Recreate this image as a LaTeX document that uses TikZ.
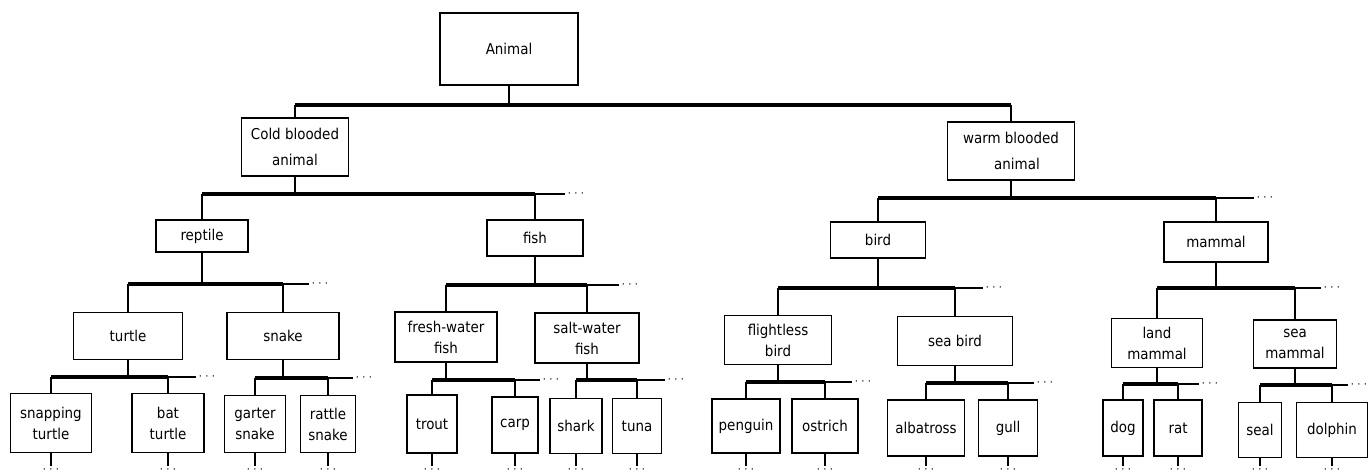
\documentclass[tikz,border=0pt]{standalone}
\usepackage{fontspec}
\setmainfont{DejaVu Sans Condensed}

\tikzstyle{box}=[shape=rectangle,draw,line width=0.9pt,inner sep=1pt,align=center,font=\fontsize{8.5}{12}\selectfont]
\tikzstyle{bus}=[line width=2pt]
\tikzstyle{stem}=[line width=1.1pt]
\tikzstyle{tail}=[line width=0.6pt]
\tikzstyle{more}=[anchor=west,inner sep=1pt,font=\scriptsize]
\tikzset{dims/.style 2 args={minimum width=#1*0.02cm,minimum height=#2*0.02cm}}

\begin{document}
\begin{tikzpicture}[x=0.02cm,y=-0.02cm]
        \useasboundingbox (0,0) rectangle (1372,472);
        % bus levels
        \coordinate (b0) at (0,105);
        \coordinate (b1c) at (0,194);
        \coordinate (b1w) at (0,198);
        \coordinate (b2r) at (0,284);
        \coordinate (b2f) at (0,285);
        \coordinate (b2b) at (0,288);
        \coordinate (b2m) at (0,288);
        \coordinate (b3t) at (0,377);
        \coordinate (b3s) at (0,378);
        \coordinate (b3fw) at (0,380);
        \coordinate (b3sw) at (0,380);
        \coordinate (b3fl) at (0,382);
        \coordinate (b3sb) at (0,383);
        \coordinate (b3lm) at (0,384);
        \coordinate (b3sm) at (0,385);
        \coordinate (bot) at (0,466);

        % classes
        \node[box,dims={138}{72}] (animal) at (509,49) {Animal};
        \node[box,dims={107}{58}] (cold) at (295,147) {Cold blooded\\[3pt]animal};
        \node[box,dims={127}{58}] (warm) at (1011,151) {warm blooded\\[3pt]\hspace*{0.8em}animal};
        \node[box,dims={92}{32}] (reptile) at (202,236) {reptile};
        \node[box,dims={96}{36}] (fish) at (535,238) {fish};
        \node[box,dims={95}{36}] (bird) at (878,240) {bird};
        \node[box,dims={104}{40}] (mammal) at (1216,242) {mammal};
        \node[box,dims={109}{47}] (turtle) at (128,336) {turtle};
        \node[box,dims={112}{47}] (snake) at (283,336) {snake};
        \node[box,dims={102}{50}] (freshw) at (446,337) {fresh-water\\fish};
        \node[box,dims={104}{50}] (saltw) at (587,338) {salt-water\\fish};
        \node[box,dims={107}{49}] (flightless) at (778,340) {flightless\\bird};
        \node[box,dims={115}{49}] (seabird) at (955,341) {sea bird};
        \node[box,dims={91}{49}] (landm) at (1157,343) {land\\mammal};
        \node[box,dims={83}{48}] (seam) at (1295,344) {sea\\mammal};

        % kinds
        \node[box,dims={81}{59}] (snapping) at (51,423) {snapping\\turtle};
        \node[box,dims={72}{59}] (bat) at (168,423) {bat\\turtle};
        \node[box,dims={61}{57}] (garter) at (255,424) {garter\\snake};
        \node[box,dims={55}{57}] (rattle) at (328,424) {rattle\\snake};
        \node[box,dims={50}{58}] (trout) at (432,424) {trout};
        \node[box,dims={46}{56}] (carp) at (515,425) {carp};
        \node[box,dims={52}{55}] (shark) at (576,426) {shark};
        \node[box,dims={49}{55}] (tuna) at (637,426) {tuna};
        \node[box,dims={68}{54}] (penguin) at (746,426) {penguin};
        \node[box,dims={66}{54}] (ostrich) at (825,426) {ostrich};
        \node[box,dims={77}{56}] (albatross) at (926,428) {albatross};
        \node[box,dims={59}{56}] (gull) at (1008,428) {gull};
        \node[box,dims={40}{56}] (dog) at (1123,428) {dog};
        \node[box,dims={48}{56}] (rat) at (1178,428) {rat};
        \node[box,dims={43}{55}] (seal) at (1260,430) {seal};
        \node[box,dims={71}{55}] (dolphin) at (1332,430) {dolphin};

        % links
        \draw[stem] (animal) -- (animal |- b0);
        \draw[bus] (cold |- b0) -- (warm |- b0);
        \draw[stem] (cold |- b0) -- (cold);
        \draw[stem] (warm |- b0) -- (warm);
        \foreach \p/\l/\r/\b/\t in {cold/reptile/fish/b1c/30, warm/bird/mammal/b1w/38,
            reptile/turtle/snake/b2r/26, fish/freshw/saltw/b2f/32,
            bird/flightless/seabird/b2b/28, mammal/landm/seam/b2m/26,
            turtle/snapping/bat/b3t/28, snake/garter/rattle/b3s/25,
            freshw/trout/carp/b3fw/25, saltw/shark/tuna/b3sw/28,
            flightless/penguin/ostrich/b3fl/27, seabird/albatross/gull/b3sb/26,
            landm/dog/rat/b3lm/21, seam/seal/dolphin/b3sm/16}{
            \draw[stem] (\p) -- (\p |- \b);
            \draw[bus] (\l |- \b) -- (\r |- \b);
            \draw[stem] (\l |- \b) -- (\l);
            \draw[stem] (\r |- \b) -- (\r);
            \draw[tail] (\r |- \b) -- ++(\t,0) node[more] {$\cdots$};
        }
        \foreach \n in {snapping,bat,garter,rattle,trout,carp,shark,tuna,
            penguin,ostrich,albatross,gull,dog,rat,seal,dolphin}
            \draw[stem] (\n) -- (\n |- bot) node[anchor=north,inner sep=0pt,font=\scriptsize] {$\cdots$};
    \end{tikzpicture}
\end{document}
